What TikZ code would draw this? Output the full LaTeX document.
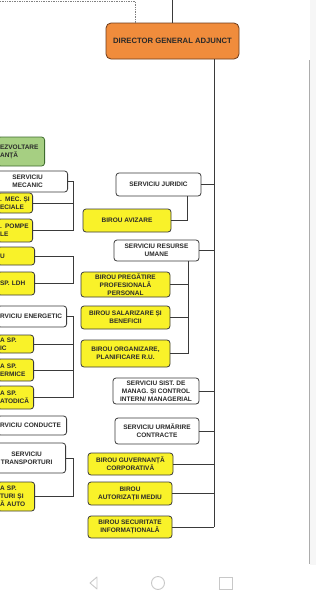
\documentclass[tikz,border=0pt]{standalone}
\usepackage{fontspec}
\setmainfont{Liberation Sans}
\definecolor{orgOrange}{HTML}{F08C3C}
\definecolor{orgBrown}{HTML}{6B3A1A}
\definecolor{orgYellow}{HTML}{F9F229}
\definecolor{orgGreen}{HTML}{A6CF82}
\definecolor{orgGreenLine}{HTML}{3E6B2E}
\definecolor{orgLine}{HTML}{3A3A3A}
\definecolor{orgText}{HTML}{2A2A2A}
\definecolor{orgNav}{HTML}{C8C8C8}
\tikzset{
  org base/.style={draw=orgLine, line width=0.8pt, rounded corners=3pt, text=orgText, font=\bfseries\fontsize{6.5}{8}\selectfont, inner xsep=2.5pt, inner ysep=1pt, align=center},
  org white/.style={org base, fill=white},
  org yellow/.style={org base, fill=orgYellow},
  org green/.style={org base, fill=orgGreen, draw=orgGreenLine},
  org head/.style={org base, fill=orgOrange, draw=orgBrown, rounded corners=5pt, font=\bfseries\fontsize{7.7}{9}\selectfont},
  org cut/.style={anchor=east, text width=#1, align=left},
  org link/.style={draw=orgLine, line width=0.9pt},
  org faint/.style={draw=gray, densely dotted, line width=0.7pt},
  org nav/.style={draw=orgNav, line width=0.9pt},
}
\begin{document}
\begin{tikzpicture}[x=1pt,y=-1pt]
  \useasboundingbox (0,0) rectangle (316,600);
  \clip (0,0) rectangle (316,600);
  % paper edge
  \fill[gray!7] (310,0) rectangle (316,565);
  \draw[gray!65, line width=0.8pt] (309.5,60) -- (309.5,564);
  % head
  \node[org head, minimum width=133pt, minimum height=36pt] (dga) at (172.5,41) {DIRECTOR GENERAL ADJUNCT};
  \coordinate (upleft) at (135,1);
  \draw[org faint] (0,1) -| (dga.north -| upleft);
  \draw[org link] (dga.north) -- (dga.north |- 0,0);
  % right column
  \node[org white, minimum width=85pt, minimum height=23pt] (juridic) at (158.5,184.5) {SERVICIU JURIDIC};
  \node[org yellow, minimum width=88pt, minimum height=23pt] (avizare) at (127,220.5) {BIROU AVIZARE};
  \node[org white, minimum width=85pt, minimum height=21pt] (resurse) at (156.5,250.5) {SERVICIU RESURSE\\UMANE};
  \node[org yellow, minimum width=89pt, minimum height=25pt] (pregatire) at (125.5,284.5) {BIROU PREGĂTIRE\\PROFESIONALĂ\\PERSONAL};
  \node[org yellow, minimum width=89pt, minimum height=23pt] (salarizare) at (125.5,317.5) {BIROU SALARIZARE ȘI\\BENEFICII};
  \node[org yellow, minimum width=89pt, minimum height=27pt] (organizare) at (125.5,353.5) {BIROU ORGANIZARE,\\PLANIFICARE R.U.};
  \node[org white, minimum width=86pt, minimum height=26pt] (sistem) at (156,391) {SERVICIU SIST. DE\\MANAG. ȘI CONTROL\\INTERN/ MANAGERIAL};
  \node[org white, minimum width=84pt, minimum height=26pt] (urmarire) at (157,431) {SERVICIU URMĂRIRE\\CONTRACTE};
  \node[org yellow, minimum width=85pt, minimum height=22pt] (guvernanta) at (130.5,464) {BIROU GUVERNANȚĂ\\CORPORATIVĂ};
  \node[org yellow, minimum width=84pt, minimum height=23pt] (autorizatii) at (130,493.5) {BIROU\\AUTORIZAȚII MEDIU};
  \node[org yellow, minimum width=84pt, minimum height=22pt] (securitate) at (130,527) {BIROU SECURITATE\\INFORMAȚIONALĂ};
  \coordinate (trunk) at (214,527);
  \draw[org link] (dga.south -| trunk) -- (trunk);
  \foreach \n in {juridic,resurse,sistem,urmarire,guvernanta,autorizatii,securitate}
    \draw[org link] (\n.east) -- (\n.east -| trunk);
  \coordinate (jbus) at (187,0);
  \draw[org link] (juridic.south -| jbus) |- (avizare.east);
  \coordinate (rbus) at (188,0);
  \draw[org link] (resurse.south -| rbus) |- (organizare.east);
  \foreach \n in {pregatire,salarizare}
    \draw[org link] (\n.east) -- (\n.east -| rbus);
  % left column, cut by the page edge
  \node[org green, org cut=42pt, minimum height=29pt] (dezvoltare) at (45,151.5) {EZVOLTARE\\ANȚĂ};
  \node[org white, anchor=east, minimum width=80pt, minimum height=21pt] (mecanic) at (68,181.5) {SERVICIU\\MECANIC};
  \node[org yellow, org cut=30pt, minimum height=20pt] (mecsp) at (33,203) {. MEC. ȘI\\ECIALE};
  \node[org yellow, org cut=30pt, minimum height=23pt] (pompe) at (33,230.5) {. POMPE\\LE};
  \node[org yellow, org cut=32pt, minimum height=18pt] (ubox) at (35,256) {U};
  \node[org yellow, org cut=32pt, minimum height=23pt] (ldh) at (35,283.5) {SP. LDH};
  \node[org white, org cut=64pt, minimum height=21pt] (energetic) at (67,316.5) {RVICIU ENERGETIC};
  \node[org yellow, org cut=31pt, minimum height=18pt] (electric) at (34,344) {A SP.\\IC};
  \node[org yellow, org cut=31pt, minimum height=22pt] (termice) at (34,370) {A SP.\\ERMICE};
  \node[org yellow, org cut=31pt, minimum height=23pt] (catodica) at (34,397.5) {A SP.\\ATODICĂ};
  \node[org white, org cut=64pt, minimum height=19pt] (conducte) at (67,425.5) {RVICIU CONDUCTE};
  \node[org white, anchor=east, minimum width=78pt, minimum height=30pt] (transport) at (66,458) {SERVICIU\\TRANSPORTURI};
  \node[org yellow, org cut=32pt, minimum height=29pt] (auto) at (35,496.5) {A SP.\\TURI ȘI\\Ă AUTO};
  \coordinate (lbus) at (73,0);
  \draw[org link] (mecanic.east) -- (mecanic.east -| lbus) |- (pompe.east);
  \draw[org link] (mecsp.east) -- (mecsp.east -| lbus);
  \draw[org link] (ubox.east) -- (ubox.east -| lbus) |- (ldh.east);
  \draw[org link] (energetic.east) -- (energetic.east -| lbus) |- (catodica.east);
  \foreach \n in {electric,termice}
    \draw[org link] (\n.east) -- (\n.east -| lbus);
  \draw[org link] (transport.east) -- (transport.east -| lbus) |- (auto.east);
  % phone buttons
  \draw[org nav, line join=round] (97,577) -- (90,583) -- (97,589) -- cycle;
  \draw[org nav] (158,583) circle[radius=6.5pt];
  \draw[org nav] (219,577) rectangle (232,589);
\end{tikzpicture}
\end{document}
